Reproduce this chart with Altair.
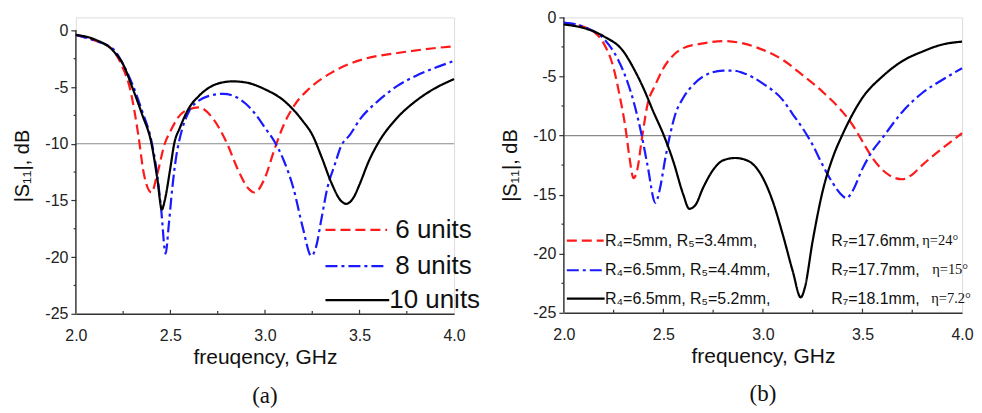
import altair as alt
import pandas as pd

# ---------------- Panel (a) ----------------
a6_f = [2.0, 2.1, 2.15, 2.2, 2.24, 2.29, 2.33, 2.36, 2.40, 2.43, 2.47, 2.50, 2.54, 2.59, 2.65, 2.73, 2.80, 2.86, 2.91,
        2.945, 3.0, 3.05, 3.10, 3.16, 3.23, 3.35, 3.44, 3.53, 3.70, 3.88, 4.0]
a6_v = [-0.4, -0.9, -1.2, -1.8, -3.0, -5.4, -9.2, -12.7, -14.3, -12.7, -10.0, -8.9, -7.7, -7.0, -6.8, -7.9, -10.0, -12.4,
        -13.9, -14.3, -13.0, -10.5, -8.3, -6.5, -5.2, -3.75, -3.0, -2.5, -2.0, -1.6, -1.4]

a8_f = [2.0, 2.1, 2.2, 2.25, 2.3, 2.35, 2.40, 2.43, 2.45, 2.475, 2.49, 2.51, 2.53, 2.55, 2.6, 2.65, 2.7, 2.78, 2.85, 2.9,
        2.95, 3.0, 3.05, 3.1, 3.15, 3.2, 3.245, 3.27, 3.3, 3.33, 3.37, 3.4, 3.45, 3.5, 3.6, 3.7, 3.8, 3.9, 4.0]
a8_v = [-0.4, -0.9, -1.7, -3.0, -4.8, -7.1, -9.8, -12.7, -15.6, -19.7, -17.4, -13.9, -11.2, -9.5, -7.1, -6.2, -5.8, -5.6,
        -5.9, -6.5, -7.4, -8.6, -9.8, -11.5, -13.9, -17.4, -19.9, -19.1, -16.5, -13.9, -11.8, -10.3, -9.2, -7.9, -6.2,
        -4.9, -4.0, -3.3, -2.7]

a10_f = [2.0, 2.1, 2.2, 2.25, 2.3, 2.35, 2.4, 2.43, 2.455, 2.47, 2.5, 2.52, 2.55, 2.6, 2.65, 2.7, 2.75, 2.83, 2.9, 3.0,
         3.1, 3.2, 3.25, 3.3, 3.35, 3.4, 3.43, 3.47, 3.5, 3.55, 3.6, 3.7, 3.8, 3.9, 4.0]
a10_v = [-0.4, -0.8, -1.85, -3.0, -5.1, -7.4, -10.0, -13.0, -15.8, -15.0, -12.1, -10.0, -8.6, -6.8, -5.8, -5.1, -4.7,
         -4.5, -4.6, -5.2, -6.2, -8.0, -9.2, -11.2, -13.4, -15.0, -15.3, -14.7, -13.6, -11.5, -9.9, -7.7, -6.2, -5.1, -4.3]

a_names = ["6 units", "8 units", "10 units"]
# legend (data units of panel a)
a_leg_x1 = [3.32, 3.32, 3.32]
a_leg_x2 = [3.646, 3.646, 3.657]
a_leg_y = [-17.6, -20.8, -23.8]
a_leg_tx = [3.689, 3.689, 3.657]

# ---------------- Panel (b) ----------------
b1_f = [2.0, 2.1, 2.15, 2.2, 2.25, 2.28, 2.31, 2.33, 2.35, 2.37, 2.39, 2.42, 2.46, 2.5, 2.55, 2.6, 2.7, 2.8, 2.9, 3.0,
        3.1, 3.2, 3.3, 3.4, 3.45, 3.5, 3.55, 3.6, 3.65, 3.7, 3.75, 3.8, 3.9, 4.0]
b1_v = [-0.5, -0.8, -1.2, -2.2, -4.3, -6.6, -9.4, -11.9, -13.6, -12.8, -10.5, -7.4, -5.7, -4.3, -3.2, -2.6, -2.2, -2.0,
        -2.2, -2.75, -3.6, -4.9, -6.3, -8.0, -9.1, -10.5, -11.9, -12.9, -13.5, -13.7, -13.3, -12.5, -11.1, -9.8]

b2_f = [2.0, 2.1, 2.2, 2.25, 2.3, 2.35, 2.39, 2.42, 2.46, 2.48, 2.51, 2.53, 2.56, 2.6, 2.65, 2.7, 2.8, 2.85, 2.9, 3.0,
        3.1, 3.15, 3.2, 3.25, 3.3, 3.35, 3.4, 3.42, 3.45, 3.5, 3.55, 3.6, 3.7, 3.8, 3.9, 4.0]
b2_v = [-0.45, -0.8, -1.8, -2.9, -4.6, -7.1, -9.9, -12.5, -15.7, -14.7, -11.9, -10.2, -8.2, -6.8, -5.7, -5.0, -4.5, -4.5,
        -4.7, -5.6, -7.0, -8.2, -9.4, -10.8, -12.5, -14.0, -15.1, -15.3, -14.7, -12.8, -11.3, -10.2, -8.0, -6.4, -5.3,
        -4.3]

b3_f = [2.0, 2.1, 2.2, 2.3, 2.35, 2.4, 2.45, 2.5, 2.55, 2.6, 2.63, 2.66, 2.7, 2.75, 2.8, 2.86, 2.92, 3.0, 3.05, 3.1,
        3.15, 3.19, 3.21, 3.25, 3.3, 3.35, 3.4, 3.45, 3.5, 3.6, 3.7, 3.8, 3.9, 4.0]
b3_v = [-0.6, -0.9, -1.6, -2.9, -4.3, -6.0, -8.0, -9.9, -12.2, -15.0, -16.2, -15.9, -14.4, -12.9, -12.1, -11.9, -12.1,
        -13.6, -15.6, -18.4, -21.5, -23.7, -22.9, -18.9, -14.7, -11.9, -9.9, -8.2, -6.8, -5.0, -3.7, -2.9, -2.3, -2.05]

b_names = ["R4=5mm", "R4=6.5mm, R5=4.4mm", "R4=6.5mm, R5=5.2mm"]
b_leg_x1 = [2.015, 2.015, 2.015]
b_leg_x2 = [2.20, 2.205, 2.205]
b_leg_y = [-18.9, -21.4, -23.8]
b_text1 = ["R\u2084=5mm, R\u2085=3.4mm,", "R\u2084=6.5mm, R\u2085=4.4mm,", "R\u2084=6.5mm, R\u2085=5.2mm,"]
b_text1_x = [2.207, 2.207, 2.207]
b_text2 = ["R\u2087=17.6mm,", "R\u2087=17.7mm,", "R\u2087=18.1mm,"]
b_text2_x = [3.343, 3.343, 3.343]
b_text3 = ["\u03b7=24\u00b0", "\u03b7=15\u00b0", "\u03b7=7.2\u00b0"]
b_text3_x = [3.80, 3.85, 3.845]

x_major = [2.0, 2.5, 3.0, 3.5, 4.0]
x_minor = [2.25, 2.75, 3.25, 3.75]
y_major = [0, -5, -10, -15, -20, -25]
y_minor = [-2.5, -7.5, -12.5, -17.5, -22.5]

COLORS = ["#ff1a1a", "#1a1aff", "#000000"]
DASHES = [[10, 5], [12, 4, 3, 4], [1, 0]]
SANS = "Liberation Sans"
SERIF = "Liberation Serif"


def panel(curves, names, legend_lines, texts, xtitle, label, width, height, y_top, label_y, xkw, ykw):
    rows = []
    for name, (fs, vs) in zip(names, curves):
        for f, v in zip(fs, vs):
            rows.append({"f": f, "v": v, "s": name})
    df = pd.DataFrame(rows)

    def xa(fld="f"):
        return alt.X(fld, type="quantitative", title=xtitle,
                     scale=alt.Scale(domain=[2, 4], nice=False, zero=False),
                     axis=alt.Axis(values=x_major, labelExpr="format(datum.value, '.1f')", **xkw))

    def ya(fld="v"):
        return alt.Y(fld, type="quantitative", title="|S\u2081\u2081|, dB",
                     scale=alt.Scale(domain=[-25, y_top], nice=False, zero=False),
                     axis=alt.Axis(values=y_major, labelExpr="datum.value + ''", **ykw))

    ref = alt.Chart(pd.DataFrame({"f": [2.0], "f2": [4.0], "v": [-10.0]})).mark_rule(
        color="#8a8a8a", strokeWidth=1.2).encode(x=xa(), x2="f2", y=ya())

    # y axis line (from -25 to 0)
    yline = alt.Chart(pd.DataFrame({"f": [2.0], "v": [-25.0], "v2": [0.0]})).mark_rule(
        color="#333333", strokeWidth=1.4).encode(x=xa(), y=ya(), y2="v2")

    lines = alt.Chart(df).mark_line(strokeWidth=2.2, interpolate="monotone").encode(
        x=xa(), y=ya(),
        color=alt.Color("s:N", scale=alt.Scale(domain=names, range=COLORS), legend=None),
        strokeDash=alt.StrokeDash("s:N", scale=alt.Scale(domain=names, range=DASHES), legend=None),
        detail="s:N",
    )

    tick_rows = [{"f": f, "f2": f, "v": -25.0, "v2": -24.65} for f in x_major[1:-1]]
    tick_rows += [{"f": f, "f2": f, "v": -25.0, "v2": -24.75} for f in x_minor]
    tick_rows += [{"f": 2.0, "f2": 1.988, "v": v, "v2": v} for v in y_minor]
    ticks = alt.Chart(pd.DataFrame(tick_rows)).mark_rule(color="#333333", strokeWidth=1.2).encode(
        x=xa(), x2="f2", y=ya(), y2="v2")

    ll = pd.DataFrame({"f": legend_lines[0], "f2": legend_lines[1], "v": legend_lines[2], "s": names})
    leg_lines = alt.Chart(ll).mark_rule(strokeWidth=2.2).encode(
        x=xa(), x2="f2", y=ya(),
        color=alt.Color("s:N", scale=alt.Scale(domain=names, range=COLORS), legend=None),
        strokeDash=alt.StrokeDash("s:N", scale=alt.Scale(domain=names, range=DASHES), legend=None),
    )

    layers = [ref, yline, lines, ticks, leg_lines]
    for (tx, ty, tt, font, size) in texts:
        tdf = pd.DataFrame({"f": tx, "v": ty, "t": tt})
        layers.append(alt.Chart(tdf).mark_text(align="left", baseline="middle", font=font, fontSize=size,
                                               color="#111111").encode(x=xa(), y=ya(), text="t:N"))

    one = pd.DataFrame({"k": [0]})
    layers.append(alt.Chart(one).mark_text(font=SERIF, fontSize=23, align="center", baseline="middle",
                                           color="#111111").encode(
        x=alt.value(width / 2), y=alt.value(label_y), text=alt.value(label)))

    return alt.layer(*layers).properties(width=width, height=height)


axis_common = dict(labelFont=SANS, labelFontSize=16, labelColor="#222222", titleFont=SANS,
                   titleFontWeight="normal", titleColor="#111111", domainColor="#333333",
                   domainWidth=1.4, grid=False)
x_kw = dict(ticks=False, labelPadding=14, labelFlush=False, titleFontSize=21, titlePadding=3, **axis_common)
y_kw = dict(ticks=True, tickSize=5, tickColor="#333333", tickWidth=1.2, labelPadding=3, domain=False,
            titleFontSize=20, titlePadding=12, **axis_common)

# panel (a): plot spans 13 px higher than its 0 dB line (same px/dB as 284 px for 25 dB)
a_texts = [(a_leg_tx, a_leg_y, a_names, SANS, 26)]
chart_a = panel([(a6_f, a6_v), (a8_f, a8_v), (a10_f, a10_v)], a_names,
                (a_leg_x1, a_leg_x2, a_leg_y), a_texts, "freuqency, GHz", "(a)", 379, 297, 1.144, 379,
                x_kw, y_kw)

b_texts = [(b_text1_x, b_leg_y, b_text1, SANS, 16),
           (b_text2_x, b_leg_y, b_text2, SANS, 16),
           (b_text3_x, b_leg_y, b_text3, SERIF, 14.5)]
chart_b = panel([(b1_f, b1_v), (b2_f, b2_v), (b3_f, b3_v)], b_names,
                (b_leg_x1, b_leg_x2, b_leg_y), b_texts, "frequency, GHz", "(b)", 399, 296, 0, 377,
                x_kw, y_kw)

chart = alt.hconcat(chart_a, chart_b, spacing=19).properties(
    padding={"left": 4, "top": 0, "right": 0, "bottom": 0}
).configure_view(stroke=None).configure(background="white")

chart.save("out.html", embed_options={"renderer": "svg", "actions": False})
